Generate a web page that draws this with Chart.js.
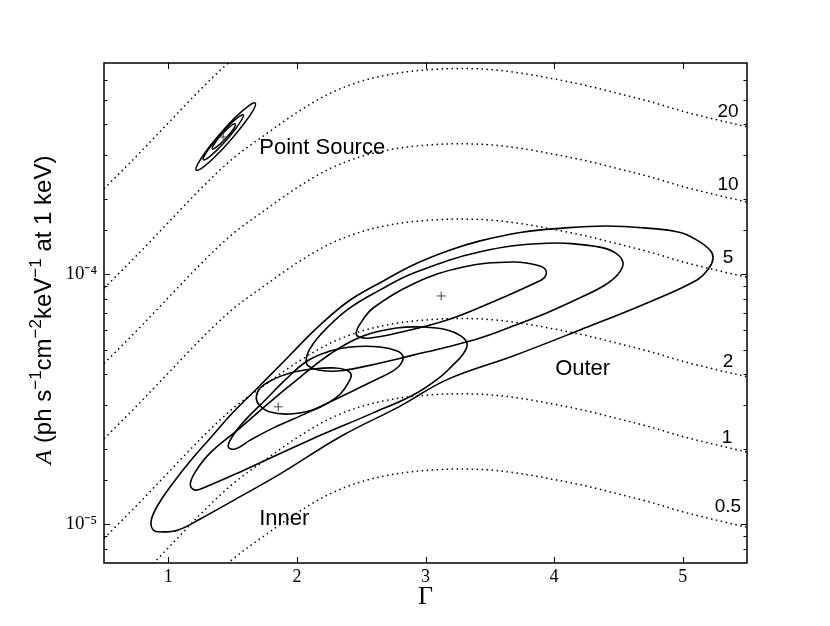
<!DOCTYPE html>
<html>
<head>
<meta charset="utf-8">
<script src="https://cdn.jsdelivr.net/npm/chart.js@4/dist/chart.umd.min.js"></script>
<style>
html,body{margin:0;padding:0;background:#fff;}
#wrap{width:830px;height:626px;}
</style>
</head>
<body>
<div id="wrap"><canvas id="c" width="830" height="626"></canvas></div>
<script>
// ---------- data (Γ, A) ----------
const fluxGamma = [0.5,0.75,1.0,1.25,1.5,1.75,2.0,2.25,2.5,2.75,3.0,3.25,3.5,3.75,4.0,4.25,4.5,4.75,5.0,5.25,5.5];
const flux05 = [2.20e-6,2.96e-6,4.03e-6,5.48e-6,7.24e-6,9.02e-6,1.109e-5,1.318e-5,1.479e-5,1.585e-5,1.641e-5,1.663e-5,1.648e-5,1.592e-5,1.510e-5,1.422e-5,1.321e-5,1.225e-5,1.122e-5,1.042e-5,9.73e-6];
const flux1  = [4.40e-6,5.92e-6,8.05e-6,1.097e-5,1.449e-5,1.803e-5,2.218e-5,2.636e-5,2.958e-5,3.170e-5,3.282e-5,3.326e-5,3.296e-5,3.184e-5,3.020e-5,2.844e-5,2.642e-5,2.450e-5,2.244e-5,2.084e-5,1.945e-5];
const flux2  = [8.79e-6,1.183e-5,1.611e-5,2.193e-5,2.898e-5,3.606e-5,4.436e-5,5.272e-5,5.916e-5,6.340e-5,6.564e-5,6.652e-5,6.592e-5,6.368e-5,6.040e-5,5.688e-5,5.284e-5,4.900e-5,4.488e-5,4.168e-5,3.891e-5];
const flux5  = [2.198e-5,2.958e-5,4.027e-5,5.483e-5,7.244e-5,9.016e-5,1.109e-4,1.318e-4,1.479e-4,1.585e-4,1.641e-4,1.663e-4,1.648e-4,1.592e-4,1.510e-4,1.422e-4,1.321e-4,1.225e-4,1.122e-4,1.042e-4,9.727e-5];
const flux10 = [4.396e-5,5.916e-5,8.054e-5,1.097e-4,1.449e-4,1.803e-4,2.218e-4,2.636e-4,2.958e-4,3.170e-4,3.282e-4,3.326e-4,3.296e-4,3.184e-4,3.020e-4,2.844e-4,2.642e-4,2.450e-4,2.244e-4,2.084e-4,1.945e-4];
const flux20 = [8.79e-5,1.183e-4,1.611e-4,2.193e-4,2.898e-4,3.606e-4,4.436e-4,5.272e-4,5.916e-4,6.340e-4,6.564e-4,6.652e-4,6.592e-4,6.368e-4,6.040e-4,5.688e-4,5.284e-4,4.900e-4,4.488e-4,4.168e-4,3.891e-4];
const flux50 = [2.198e-4,2.958e-4,4.027e-4,5.483e-4,7.244e-4,9.016e-4];

const fluxLabels = ['20','10','5','2','1','0.5'];
const fluxLabelG = [5.352,5.352,5.352,5.352,5.345,5.352];
const fluxLabelA = [4.46e-4,2.28e-4,1.16e-4,4.46e-5,2.21e-5,1.17e-5];

const outer99G = [0.868,0.922,1.031,1.171,1.326,1.497,1.684,1.932,2.181,2.414,2.686,2.904,3.192,3.425,3.736,4.070,4.397,4.723,4.980,5.111,5.212,5.236,5.205,5.111,4.723,4.202,3.681,3.168,2.803,2.337,1.870,1.559,1.248,1.078,0.953,0.883];
const outer99A = [1.04e-5,1.20e-5,1.45e-5,1.79e-5,2.21e-5,2.78e-5,3.47e-5,4.67e-5,6.27e-5,7.89e-5,9.49e-5,1.09e-4,1.25e-4,1.36e-4,1.47e-4,1.53e-4,1.56e-4,1.53e-4,1.47e-4,1.37e-4,1.25e-4,1.16e-4,1.06e-4,9.49e-5,7.68e-5,5.99e-5,4.71e-5,3.79e-5,2.97e-5,2.24e-5,1.59e-5,1.29e-5,1.05e-5,9.49e-6,9.32e-6,9.49e-6];
const outer90G = [2.072,2.096,2.181,2.391,2.648,2.904,3.425,3.946,4.334,4.474,4.536,4.497,4.396,4.202,3.946,3.681,3.425,3.168,2.904,2.648,2.337,2.166,2.088];
const outer90A = [4.54e-5,4.98e-5,5.72e-5,7.20e-5,8.66e-5,1.01e-4,1.23e-4,1.33e-4,1.29e-4,1.22e-4,1.11e-4,1.00e-4,9.06e-5,8.05e-5,7.02e-5,6.21e-5,5.56e-5,5.12e-5,4.75e-5,4.42e-5,4.11e-5,4.14e-5,4.30e-5];
const outer68G = [2.461,2.492,2.593,2.904,3.293,3.681,3.891,3.938,3.922,3.852,3.557,3.168,2.780,2.570,2.484];
const outer68A = [5.82e-5,6.33e-5,7.33e-5,9.15e-5,1.07e-4,1.12e-4,1.08e-4,1.03e-4,9.67e-5,9.23e-5,7.89e-5,6.56e-5,5.82e-5,5.56e-5,5.61e-5];

const inner99G = [1.171,1.210,1.326,1.559,1.792,2.026,2.259,2.515,2.780,2.982,3.168,3.277,3.324,3.293,3.207,3.114,2.904,2.593,2.080,1.559,1.303,1.210];
const inner99A = [1.44e-5,1.62e-5,1.93e-5,2.43e-5,3.09e-5,3.88e-5,4.80e-5,5.66e-5,6.10e-5,6.15e-5,5.99e-5,5.66e-5,5.26e-5,4.80e-5,4.30e-5,3.88e-5,3.29e-5,2.79e-5,2.15e-5,1.62e-5,1.42e-5,1.37e-5];
const inner90G = [1.466,1.497,1.598,1.754,1.909,2.080,2.259,2.414,2.648,2.780,2.826,2.803,2.749,2.593,2.337,2.080,1.818,1.637,1.520];
const inner90A = [2.04e-5,2.24e-5,2.61e-5,3.14e-5,3.78e-5,4.50e-5,4.93e-5,5.12e-5,5.12e-5,4.93e-5,4.67e-5,4.34e-5,4.11e-5,3.74e-5,3.23e-5,2.79e-5,2.43e-5,2.17e-5,2.00e-5];
const inner68G = [1.684,1.715,1.808,1.948,2.127,2.298,2.383,2.422,2.399,2.337,2.243,2.127,1.948,1.792,1.707];
const inner68A = [3.23e-5,3.51e-5,3.78e-5,4.03e-5,4.18e-5,4.22e-5,4.14e-5,3.96e-5,3.68e-5,3.32e-5,3.06e-5,2.87e-5,2.76e-5,2.81e-5,3.00e-5];

const ps99G = [1.676,1.663,1.591,1.482,1.363,1.266,1.217,1.231,1.302,1.412,1.531,1.628];
const ps99A = [4.84e-4,4.56e-4,4.02e-4,3.43e-4,2.95e-4,2.67e-4,2.61e-4,2.77e-4,3.15e-4,3.69e-4,4.29e-4,4.73e-4];
const ps90G = [1.583,1.573,1.525,1.451,1.370,1.304,1.272,1.281,1.329,1.404,1.485,1.550];
const ps90A = [4.34e-4,4.17e-4,3.83e-4,3.44e-4,3.11e-4,2.91e-4,2.87e-4,2.98e-4,3.25e-4,3.61e-4,4.00e-4,4.27e-4];
const ps68G = [1.521,1.506,1.447,1.379,1.342,1.357,1.415,1.483];
const ps68A = [3.99e-4,3.81e-4,3.50e-4,3.24e-4,3.17e-4,3.32e-4,3.62e-4,3.91e-4];

const bestG = [1.427,1.855,3.122];
const bestA = [3.54e-4,2.95e-5,8.19e-5];

const regionLabels = ['Point Source','Outer','Inner'];
const regionG = [1.707,4.008,1.707];
const regionA = [3.03e-4,3.96e-5,9.94e-6];

const xTicks = [1,2,3,4,5];

// ---------- helpers ----------
const pts = (G, A) => A.map((a, i) => ({x: G[i], y: a}));
const fluxDs = arr => ({data: pts(fluxGamma, arr), borderColor:'#000', borderWidth:1.5, borderDash:[1.5,3.5],
  pointRadius:0, cubicInterpolationMode:'monotone', fill:false, order:5});
const contourDs = (G, A, w) => ({data: pts(G, A), closed:true, borderColor:'#000', borderWidth:w||1.6,
  pointRadius:0, tension:0.4, fill:false, order:2});
const isPow10 = v => Math.abs(Math.log10(v) - Math.round(Math.log10(v))) < 1e-6;
const sup = {'-':'⁻','0':'⁰','1':'¹','2':'²','3':'³','4':'⁴','5':'⁵','6':'⁶','7':'⁷','8':'⁸','9':'⁹'};

const closeLoops = {
  id:'closeLoops',
  afterDatasetUpdate(chart, args){
    const ds = chart.data.datasets[args.index];
    if (ds && ds.closed && args.meta.dataset){ args.meta.dataset._loop = true; args.meta.dataset._fullLoop = true; }
  }
};

const frame = {
  id:'frame',
  afterDatasetsDraw(chart){
    const {ctx, chartArea:a, scales:{x, y}} = chart;
    ctx.save();
    ctx.strokeStyle = '#000';
    ctx.lineWidth = 1;
    const seg = (x1,y1,x2,y2)=>{ctx.beginPath();ctx.moveTo(x1,y1);ctx.lineTo(x2,y2);ctx.stroke();};
    x.ticks.forEach(t=>{
      const px = Math.round(x.getPixelForValue(t.value)) + 0.5;
      seg(px, a.bottom, px, a.bottom - 6);
      seg(px, a.top, px, a.top + 6);
    });
    y.ticks.forEach(t=>{
      const py = Math.round(y.getPixelForValue(t.value)) + 0.5;
      if (py <= a.top + 2 || py >= a.bottom - 2) return;
      const len = isPow10(t.value) ? 6 : 3.5;
      seg(a.left, py, a.left + len, py);
      seg(a.right, py, a.right - len, py);
    });
    ctx.lineWidth = 1.5;
    ctx.strokeRect(a.left, a.top, a.right - a.left, a.bottom - a.top);
    // text labels
    ctx.fillStyle = '#000';
    ctx.font = '19px "Liberation Sans", Arial, sans-serif';
    ctx.textAlign = 'center'; ctx.textBaseline = 'middle';
    fluxLabels.forEach((s,i)=>ctx.fillText(s, x.getPixelForValue(fluxLabelG[i]), y.getPixelForValue(fluxLabelA[i])));
    ctx.font = '22px "Liberation Sans", Arial, sans-serif';
    ctx.textAlign = 'left'; ctx.textBaseline = 'alphabetic';
    regionLabels.forEach((s,i)=>ctx.fillText(s, x.getPixelForValue(regionG[i]), y.getPixelForValue(regionA[i])));
    ctx.restore();
  },
  afterDraw(chart){
    const ctx = chart.ctx;
    ctx.save();
    ctx.fillStyle = '#000';
    ctx.translate(51, 310);
    ctx.rotate(-Math.PI/2);
    ctx.textBaseline = 'alphabetic';
    const main = '24px "Liberation Sans", Arial, sans-serif';
    const small = '17px "Liberation Sans", Arial, sans-serif';
    const parts = [
      {t:'A', f:'italic 24px "Liberation Serif", serif', dy:0},
      {t:' (ph s', f:main, dy:0},
      {t:'\u22121', f:small, dy:-10},
      {t:'cm', f:main, dy:0},
      {t:'\u22122', f:small, dy:-10},
      {t:'keV', f:main, dy:0},
      {t:'\u22121', f:small, dy:-10},
      {t:' at 1 keV)', f:main, dy:0}
    ];
    let total = 0;
    parts.forEach(p=>{ctx.font = p.f; p.w = ctx.measureText(p.t).width; total += p.w;});
    let cx = -total/2;
    parts.forEach(p=>{ctx.font = p.f; ctx.fillText(p.t, cx, p.dy); cx += p.w;});
    ctx.restore();
  }
};

new Chart(document.getElementById('c'), {
  type:'line',
  data:{
    datasets:[
      fluxDs(flux05), fluxDs(flux1), fluxDs(flux2), fluxDs(flux5), fluxDs(flux10), fluxDs(flux20),
      Object.assign(fluxDs([]), {data: pts(fluxGamma, flux50)}),
      contourDs(outer99G, outer99A), contourDs(outer90G, outer90A), contourDs(outer68G, outer68A),
      contourDs(inner99G, inner99A), contourDs(inner90G, inner90A), contourDs(inner68G, inner68A),
      contourDs(ps99G, ps99A, 1.5), contourDs(ps90G, ps90A, 1.5), contourDs(ps68G, ps68A, 1.5),
      {data: pts(bestG, bestA), showLine:false, pointStyle:'cross', pointRadius:4.5, borderWidth:1,
       borderColor:'#444', backgroundColor:'#444', order:1}
    ]
  },
  options:{
    responsive:false, devicePixelRatio:1, animation:false,
    layout:{padding:{left:0, right:83, top:63, bottom:0}},
    plugins:{legend:{display:false}, tooltip:{enabled:false}},
    events:[],
    scales:{
      x:{type:'linear', min:0.5, max:5.5,
        grid:{display:false, drawTicks:false}, border:{display:false},
        afterBuildTicks(s){ s.ticks = xTicks.map(v=>({value:v})); },
        ticks:{autoSkip:false, padding:3, color:'#000',
          font:{family:'"Liberation Serif", serif', size:18},
          callback:v=> String(v)},
        title:{display:true, text:'Γ', color:'#000', font:{family:'"Liberation Serif", serif', size:26},
          padding:{top:0, bottom:13}},
        afterFit(s){ s.height = 63; }
      },
      y:{type:'logarithmic', min:7e-6, max:7e-4,
        grid:{display:false, drawTicks:false}, border:{display:false},
        ticks:{autoSkip:false, padding:7, color:'#000',
          font:{family:'"Liberation Serif", serif', size:19},
          callback:v=>{
            if (!isPow10(v)) return '';
            const e = String(Math.round(Math.log10(v)));
            return '10' + e.split('').map(c=>sup[c]).join('');
          }},
        afterFit(s){ s.width = 104; }
      }
    }
  },
  plugins:[closeLoops, frame]
});
</script>
</body>
</html>
